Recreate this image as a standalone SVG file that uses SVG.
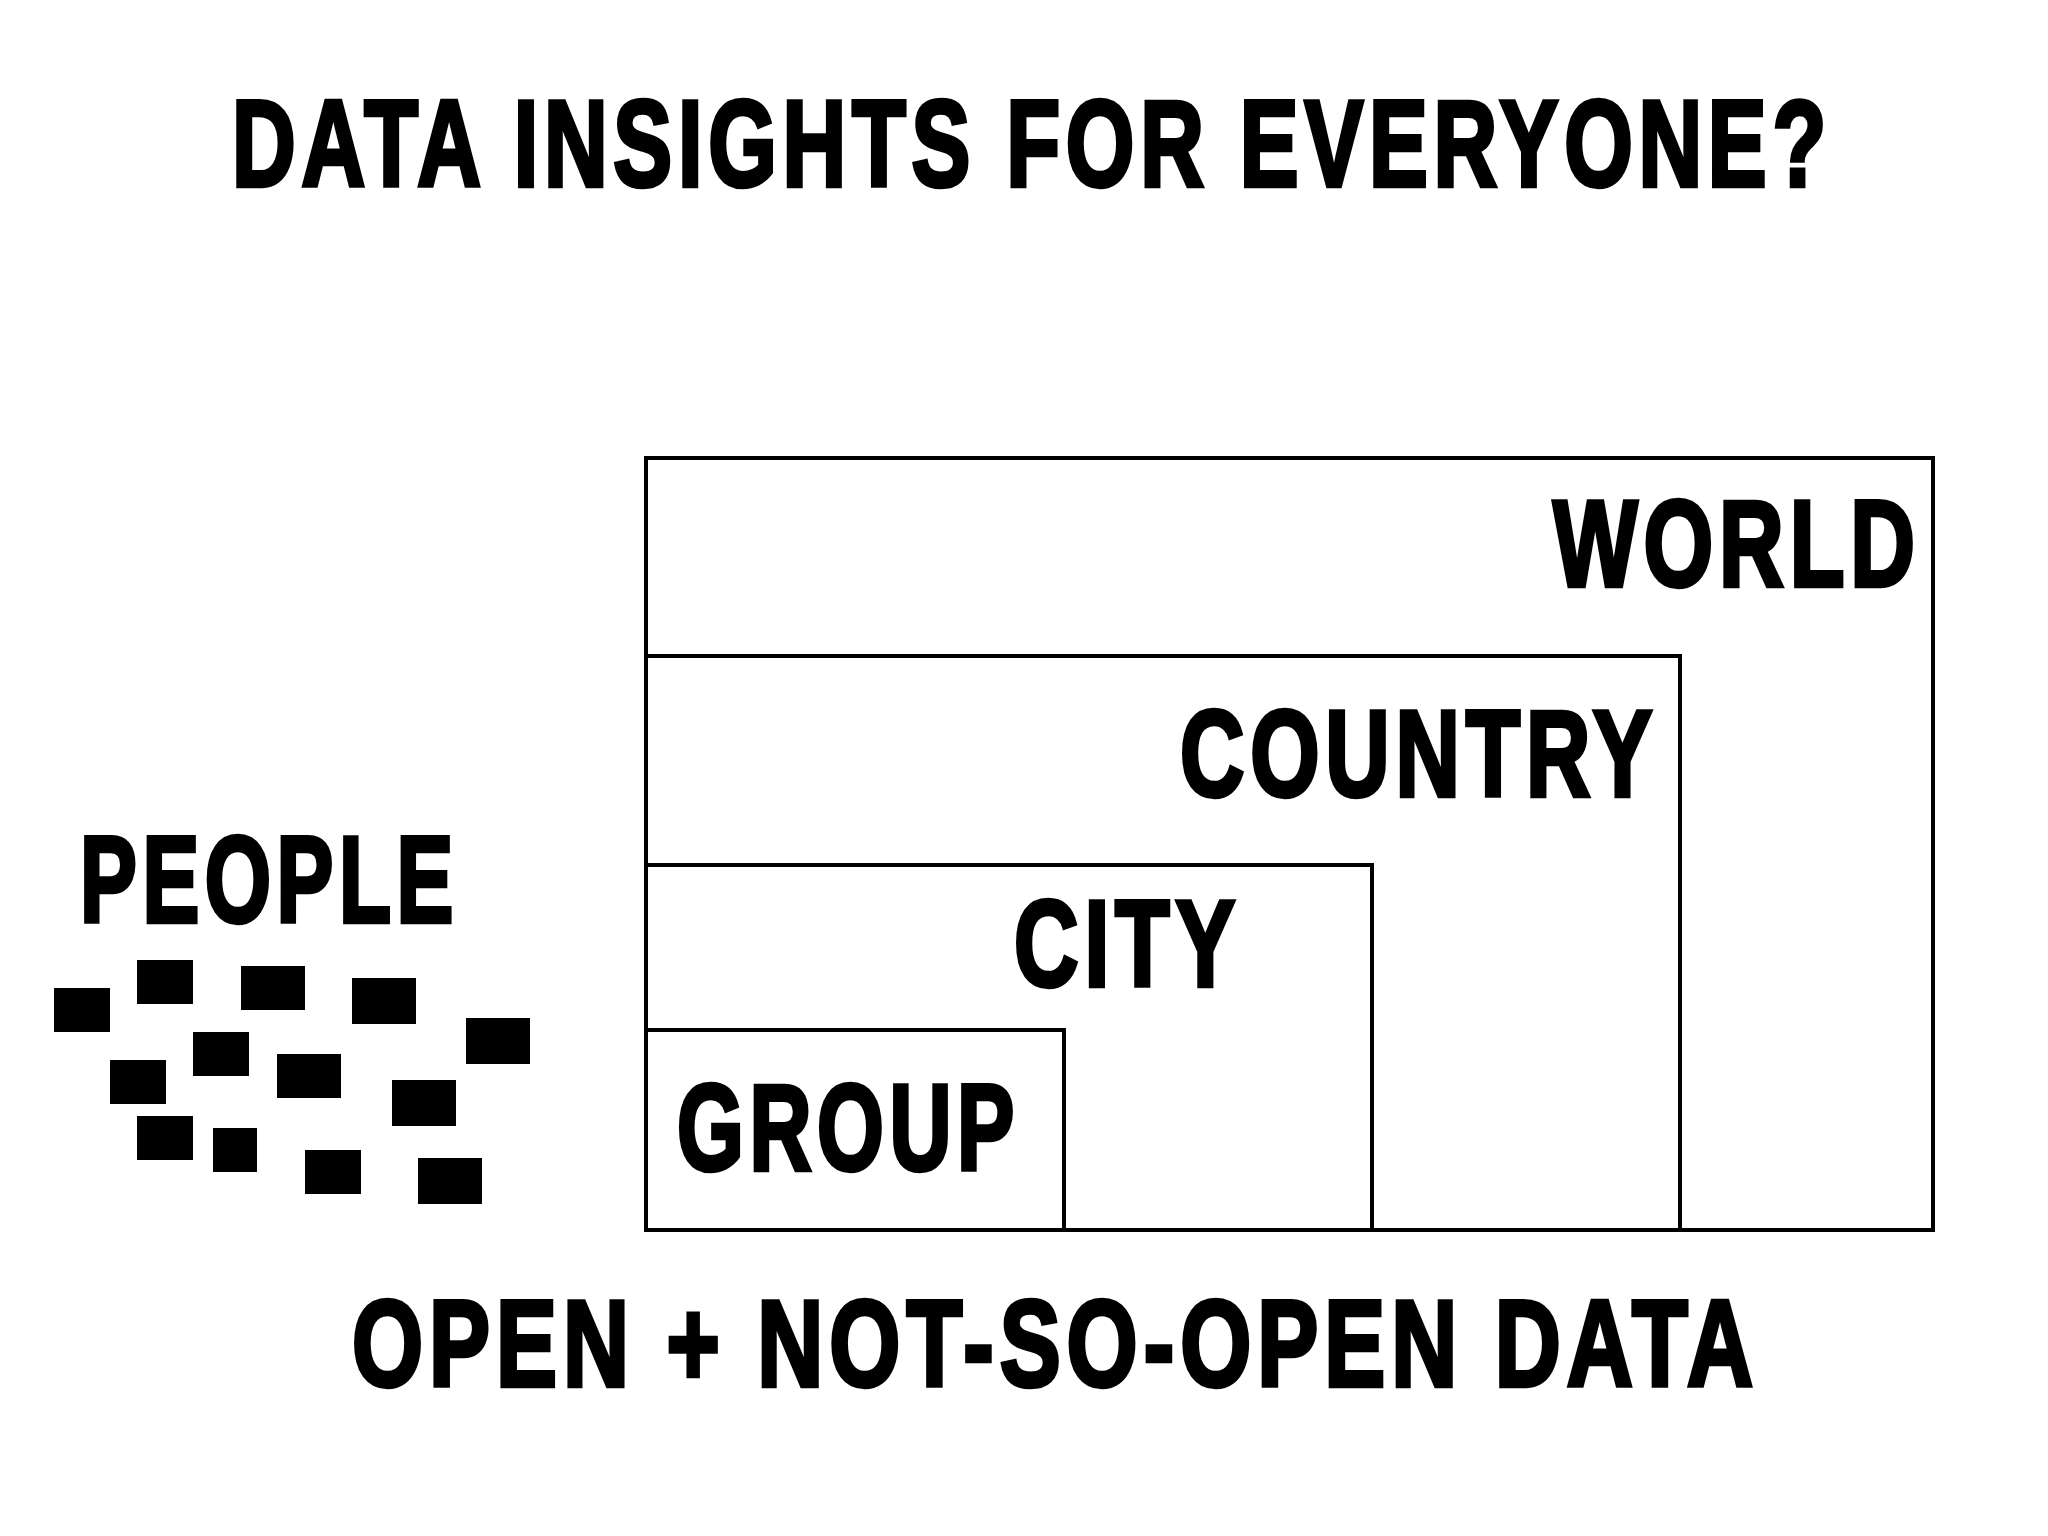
<svg xmlns="http://www.w3.org/2000/svg" width="2048" height="1536" viewBox="0 0 2048 1536">
<style>
.t{font-family:"Liberation Sans Narrow","Liberation Sans",Arial,sans-serif;font-weight:bold;font-size:122px;letter-spacing:8px;fill:#000;stroke:#000;stroke-width:4.5;stroke-linejoin:miter}
.b{fill:#fff;stroke:#000;stroke-width:4}
.p{fill:#000}
</style>
<rect width="2048" height="1536" fill="#fff"/>
<text class="t" x="232" y="186" textLength="1600" lengthAdjust="spacingAndGlyphs">DATA INSIGHTS FOR EVERYONE?</text>
<g id="world"><rect class="b" x="646" y="458" width="1287" height="772"/><text class="t" x="1553" y="586" textLength="368" lengthAdjust="spacingAndGlyphs">WORLD</text></g>
<g id="country"><rect class="b" x="646" y="656" width="1034" height="574"/><text class="t" x="1180" y="796" textLength="478" lengthAdjust="spacingAndGlyphs">COUNTRY</text></g>
<g id="city"><rect class="b" x="646" y="865" width="726" height="365"/><text class="t" x="1014" y="986" textLength="227" lengthAdjust="spacingAndGlyphs">CITY</text></g>
<g id="group"><rect class="b" x="646" y="1030" width="418" height="200"/><text class="t" x="677" y="1170" textLength="343" lengthAdjust="spacingAndGlyphs">GROUP</text></g>
<g id="people">
<text class="t" x="80" y="922" textLength="379" lengthAdjust="spacingAndGlyphs">PEOPLE</text>
<rect class="p" x="54" y="988" width="56" height="44"/>
<rect class="p" x="137" y="960" width="56" height="44"/>
<rect class="p" x="241" y="966" width="64" height="44"/>
<rect class="p" x="352" y="978" width="64" height="46"/>
<rect class="p" x="466" y="1018" width="64" height="46"/>
<rect class="p" x="110" y="1060" width="56" height="44"/>
<rect class="p" x="193" y="1032" width="56" height="44"/>
<rect class="p" x="277" y="1054" width="64" height="44"/>
<rect class="p" x="392" y="1080" width="64" height="46"/>
<rect class="p" x="137" y="1116" width="56" height="44"/>
<rect class="p" x="213" y="1128" width="44" height="44"/>
<rect class="p" x="305" y="1150" width="56" height="44"/>
<rect class="p" x="418" y="1158" width="64" height="46"/>
</g>
<g id="connectors"/>
<text class="t" x="352" y="1386" textLength="1407" lengthAdjust="spacingAndGlyphs">OPEN + NOT-SO-OPEN DATA</text>
</svg>
